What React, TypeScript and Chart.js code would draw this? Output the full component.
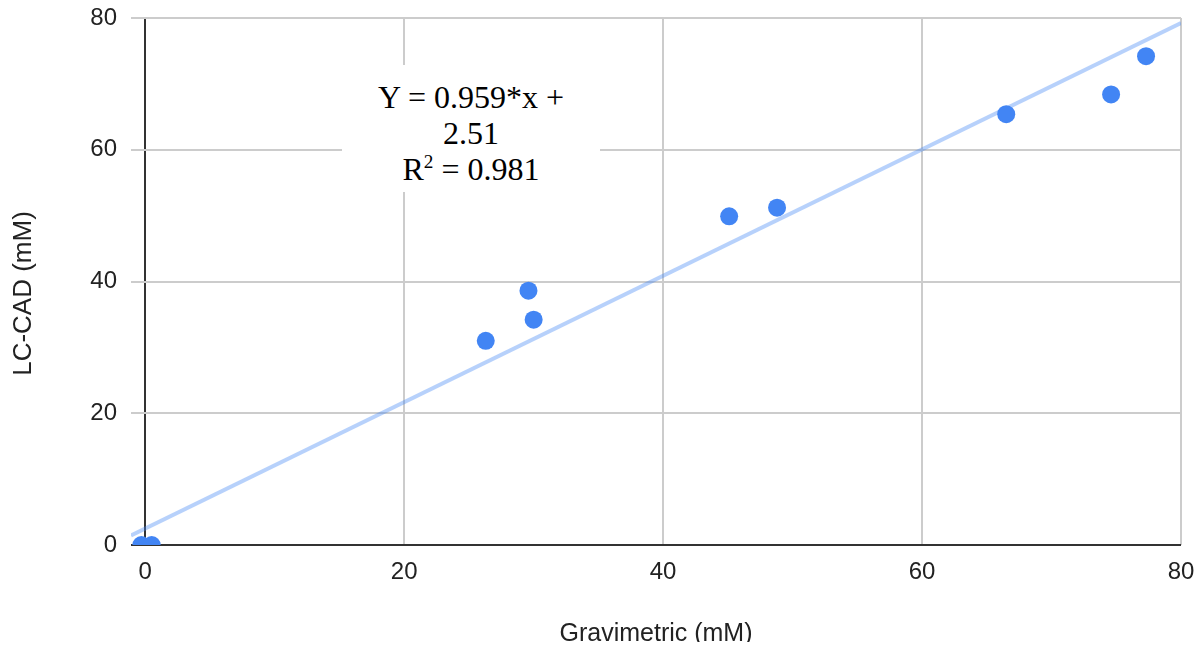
import React, { useEffect, useRef } from "react";
import { Chart, registerables } from "chart.js";

Chart.register(...registerables);

// Measured data (Gravimetric vs LC-CAD, mM)
const gravimetric = [-0.3, 0.5, 26.3, 29.6, 30.0, 45.1, 48.8, 66.5, 74.6, 77.3];
const lcCad = [0, 0, 31.0, 38.6, 34.2, 49.9, 51.2, 65.4, 68.4, 74.2];

// Trendline end points
const trendX = [-1.1, 80];
const trendY = [1.45, 79.23];

const xTicks = [0, 20, 40, 60, 80];
const yTicks = [0, 20, 40, 60, 80];

const xTitle = "Gravimetric (mM)";
const yTitle = "LC-CAD (mM)";
const eqLine1 = "Y = 0.959*x +";
const eqLine2 = "2.51";
const r2Label = "R";
const r2Value = " = 0.981";

const FAMILY = "'Liberation Sans', Arial, sans-serif";
const TICK_FONT = { family: FAMILY, size: 24 };
const TITLE_FONT = { family: FAMILY, size: 25 };

const yTitlePlugin = {
  id: "yTitlePlugin",
  afterDraw(chart: any) {
    const ctx = chart.ctx;
    ctx.save();
    ctx.translate(16, 285.5);
    ctx.rotate(-Math.PI / 2);
    ctx.font = `26px ${FAMILY}`;
    ctx.fillStyle = "#222222";
    ctx.textAlign = "center";
    ctx.textBaseline = "middle";
    ctx.fillText(yTitle, 0, 0);
    ctx.restore();
  },
};

export default function App() {
  const ref = useRef<HTMLCanvasElement | null>(null);

  useEffect(() => {
    if (!ref.current) return;
    const chart = new Chart(ref.current, {
      type: "scatter",
      data: {
        datasets: [
          {
            type: "line",
            data: trendX.map((x, i) => ({ x, y: trendY[i] })),
            borderColor: "rgba(66,133,244,0.38)",
            borderWidth: 4,
            pointRadius: 0,
            fill: false,
            order: 2,
          } as any,
          {
            data: gravimetric.map((x, i) => ({ x, y: lcCad[i] })),
            backgroundColor: "#4285f4",
            borderWidth: 0,
            pointRadius: 9,
            pointHoverRadius: 9,
            clip: 0,
            order: 1,
          } as any,
        ],
      },
      plugins: [yTitlePlugin],
      options: {
        animation: false,
        responsive: true,
        maintainAspectRatio: false,
        layout: { padding: { top: 10, right: 14, left: 0, bottom: 0 } },
        plugins: { legend: { display: false }, tooltip: { enabled: false } },
        scales: {
          x: {
            type: "linear",
            min: -1.1,
            max: 80,
            afterBuildTicks: (s: any) => {
              s.ticks = xTicks.map((v) => ({ value: v }));
            },
            afterFit: (s: any) => {
              s.height = 105;
              s.paddingLeft = 0;
              s.paddingRight = 0;
            },
            grid: {
              color: (ctx: any) => (ctx.tick && ctx.tick.value === 0 ? "#333333" : "#cccccc"),
              lineWidth: 2,
              drawTicks: false,
            },
            border: { display: false },
            ticks: { font: TICK_FONT, color: "#222222", padding: 13, maxRotation: 0 },
            title: {
              display: true,
              text: xTitle,
              font: TITLE_FONT,
              color: "#222222",
              padding: { top: 0, bottom: 1 },
            },
          },
          y: {
            type: "linear",
            min: 0,
            max: 80,
            afterBuildTicks: (s: any) => {
              s.ticks = yTicks.map((v) => ({ value: v }));
            },
            afterFit: (s: any) => {
              s.width = 123;
              s.paddingTop = 0;
              s.paddingBottom = 0;
            },
            grid: {
              color: (ctx: any) => (ctx.tick && ctx.tick.value === 0 ? "#333333" : "#cccccc"),
              lineWidth: 2,
              drawTicks: false,
            },
            border: { display: false },
            ticks: { font: TICK_FONT, color: "#222222", padding: 14 },
          },
        },
      },
    });
    return () => chart.destroy();
  }, []);

  return (
    <div style={{ position: "relative", width: 1187, height: 642, marginBottom: -8 }}>
      <canvas ref={ref} />
      <div
        style={{
          position: "absolute",
          left: 334,
          top: 57,
          width: 258,
          height: 127,
          background: "#ffffff",
          boxSizing: "border-box",
          paddingTop: 14,
          fontFamily: "'Liberation Serif', 'Times New Roman', serif",
          fontSize: 32,
          lineHeight: "36px",
          color: "#000000",
          textAlign: "center",
          whiteSpace: "nowrap",
        }}
      >
        <div>{eqLine1}</div>
        <div>{eqLine2}</div>
        <div>
          {r2Label}
          <sup style={{ fontSize: "0.6em", lineHeight: 0, verticalAlign: "0.6em" }}>2</sup>
          {r2Value}
        </div>
      </div>
    </div>
  );
}
